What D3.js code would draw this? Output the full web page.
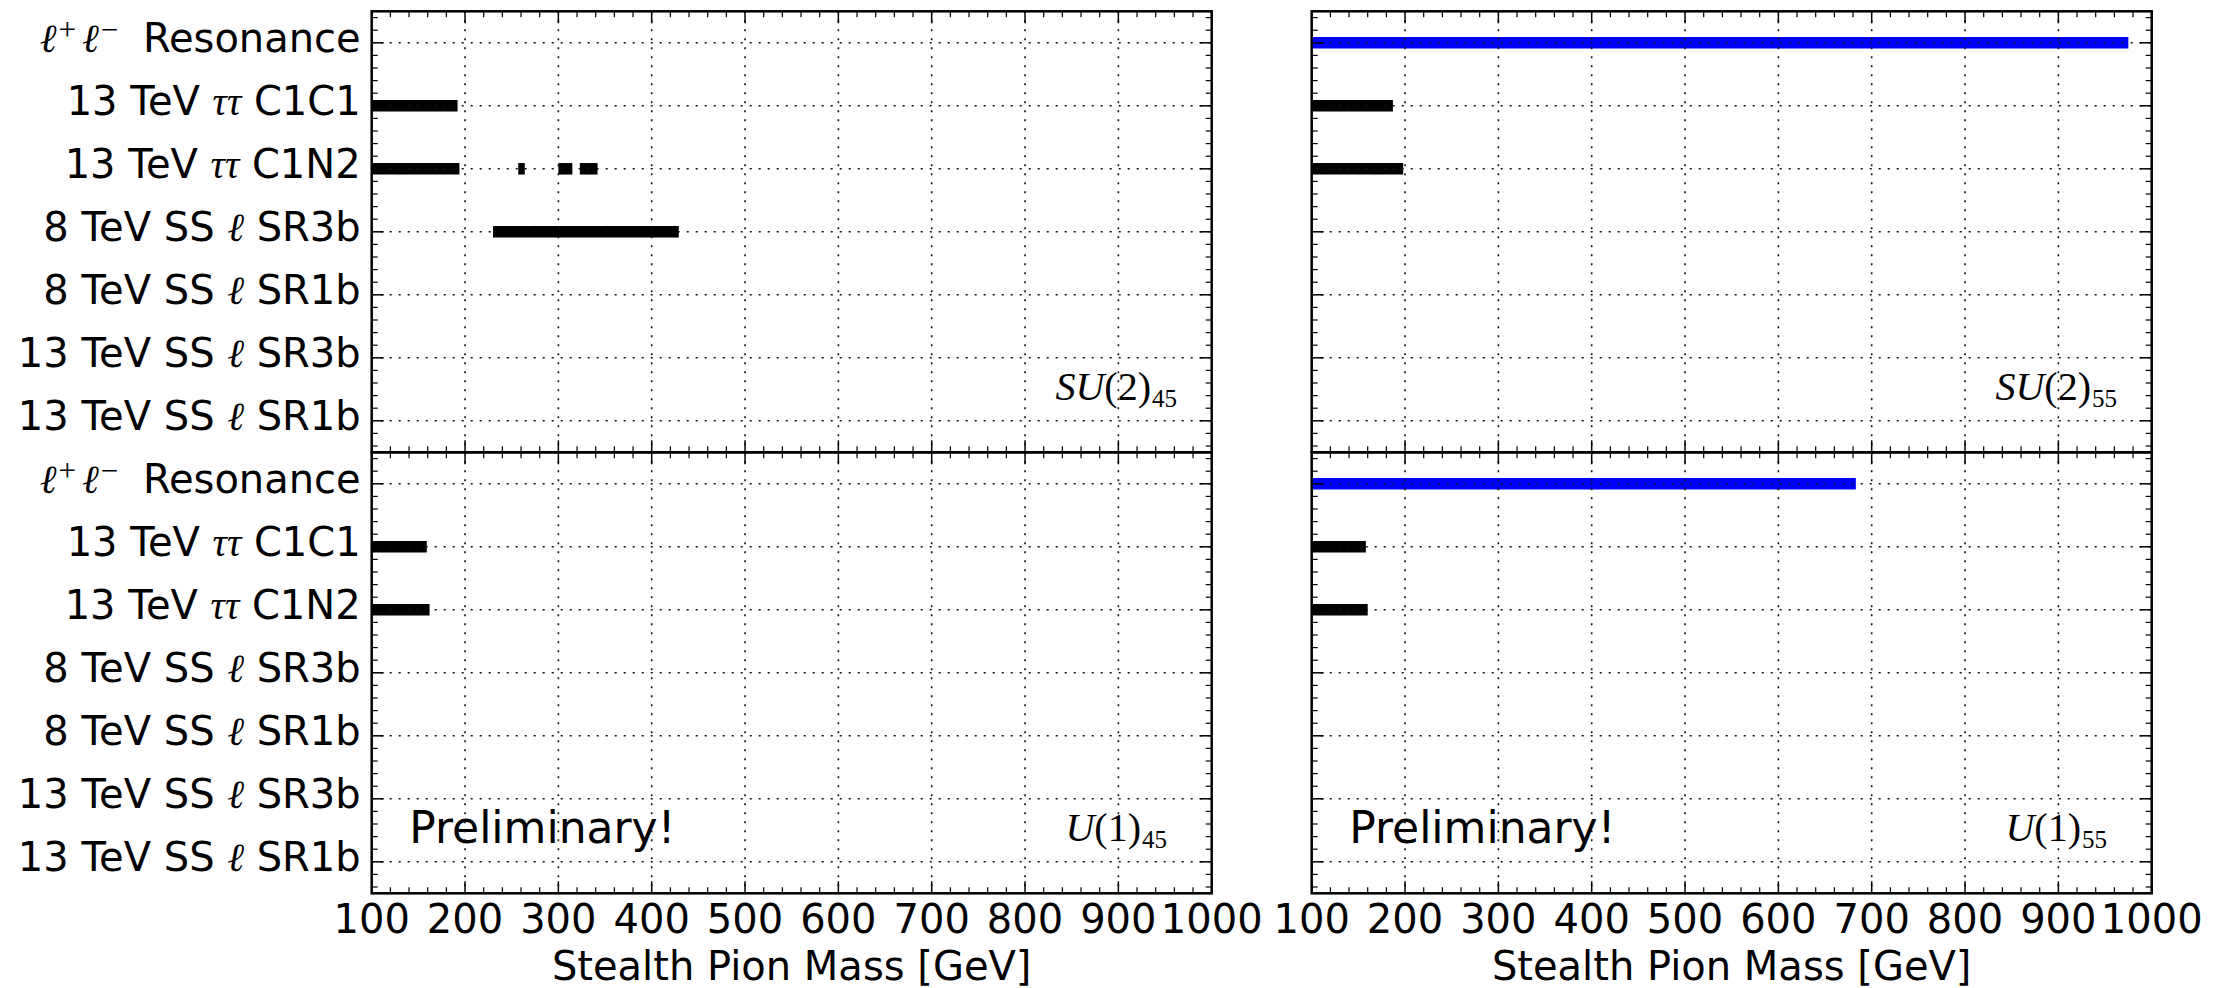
<!DOCTYPE html>
<html><head><meta charset="utf-8">
<script src="https://cdn.jsdelivr.net/npm/d3@7"></script>
<style>html,body{margin:0;padding:0;background:#fff;} svg{display:block;}</style>
</head><body><svg id="chart" width="2223" height="988"></svg>
<script>
// ---------------- data ----------------
const categories = ["ℓ⁺ℓ⁻ Resonance", "13 TeV ττ C1C1", "13 TeV ττ C1N2",
  "8 TeV SS ℓ SR3b", "8 TeV SS ℓ SR1b", "13 TeV SS ℓ SR3b", "13 TeV SS ℓ SR1b"];
const xTicks = [100, 200, 300, 400, 500, 600, 700, 800, 900, 1000];
const xLabel = "Stealth Pion Mass [GeV]";
// excluded ranges: [category index, mass from, mass to]
const su2_45 = [[1, 100, 192], [2, 100, 194], [2, 257, 264], [2, 300, 315], [2, 323, 342], [3, 230, 429]];
const su2_55 = [[0, 100, 975], [1, 100, 187], [2, 100, 198]];
const u1_45 = [[1, 100, 159], [2, 100, 162]];
const u1_55 = [[0, 100, 683], [1, 100, 158], [2, 100, 160]];
const panelGroups = ["SU(2)", "SU(2)", "U(1)", "U(1)"];
const panelSubs = ["45", "55", "45", "55"];
const watermark = "Preliminary!";

// ---------------- layout ----------------
const svg = d3.select("#chart");
const cols = [[371.7, 1211.7], [1311.7, 2151.7]];
const rowsY = [[11.3, 452.3], [452.3, 893.3]];
const panels = [
  {data: su2_45, c: 0, r: 0, name: 0},
  {data: su2_55, c: 1, r: 0, name: 1},
  {data: u1_45, c: 0, r: 1, name: 2},
  {data: u1_55, c: 1, r: 1, name: 3}
];
const SANS = "'DejaVu Sans', sans-serif";
const SERIF = "'Liberation Serif', 'DejaVu Serif', serif";

function richLabel(textSel, str, size) {
  // math symbols in serif italic, superscripts raised
  const runs = [];
  for (const ch of str) {
    let r;
    if (ch === "ℓ" || ch === "τ") r = {t: ch, font: SERIF, style: "italic", size: size, shift: 0, dx: 0};
    else if (ch === "⁺") r = {t: "+", font: SERIF, style: "normal", size: size * 0.78, shift: -12, dx: 2};
    else if (ch === "⁻") r = {t: "−", font: SERIF, style: "normal", size: size * 0.78, shift: -12, dx: 2};
    else r = {t: ch, font: SANS, style: "normal", size: size, shift: 0, dx: 0};
    const last = runs[runs.length - 1];
    if (last && last.font === r.font && last.style === r.style && last.size === r.size && last.shift === r.shift) last.t += r.t;
    else {
      if (last && last.shift !== 0 && r.shift === 0) r.dx = r.font === SANS ? 12 : 6;
      runs.push(r);
    }
  }
  let cur = 0;
  runs.forEach(r => {
    textSel.append("tspan").text(r.t)
      .attr("font-family", r.font).attr("font-style", r.style)
      .attr("font-size", r.size).attr("dy", r.shift - cur).attr("dx", r.dx);
    cur = r.shift;
  });
}

panels.forEach(p => {
  const [x0, x1] = cols[p.c];
  const [y0, y1] = rowsY[p.r];
  const x = d3.scaleLinear().domain([100, 1000]).range([x0, x1]);
  const y = d3.scaleLinear().domain([-0.5, 6.5]).range([y0, y1]);
  const g = svg.append("g");

  // bars
  g.selectAll("line.bar").data(p.data).enter().append("line")
    .attr("x1", d => x(d[1])).attr("x2", d => x(d[2]))
    .attr("y1", d => y(d[0])).attr("y2", d => y(d[0]))
    .attr("stroke", d => d[0] === 0 ? "#0000ff" : "#000")
    .attr("stroke-width", 11.5).attr("stroke-linecap", "butt");

  // panel label
  const lab = g.append("text")
    .attr("x", x0 + 744.5).attr("y", y0 + 389)
    .attr("text-anchor", "middle").attr("font-family", SERIF).attr("font-size", 40);
  for (const ch of panelGroups[p.name]) {
    lab.append("tspan").text(ch).attr("font-style", /[A-Za-z]/.test(ch) ? "italic" : "normal");
  }
  lab.append("tspan").text(panelSubs[p.name]).attr("font-size", 25).attr("dy", 7).attr("dx", 1);

  if (p.r === 1) {
    g.append("text").attr("x", x0 + 37.5).attr("y", y0 + 390.4)
      .attr("font-family", SANS).attr("font-size", 44).text(watermark);
  }

  // grid (drawn over bars & text)
  const grid = g.append("g").attr("stroke", "#111").attr("stroke-width", 1.6)
    .attr("stroke-dasharray", "2,7");
  grid.selectAll("line.gy").data(d3.range(categories.length)).enter().append("line")
    .attr("x1", x0).attr("x2", x1).attr("y1", d => y(d)).attr("y2", d => y(d));
  grid.selectAll("line.gx").data(xTicks.slice(1, -1)).enter().append("line")
    .attr("x1", d => x(d)).attr("x2", d => x(d)).attr("y1", y0).attr("y2", y1);

  // ticks (inward on all sides)
  const tk = g.append("g").attr("stroke", "#000");
  const minorX = d3.range(100, 1001, 20).filter(v => v % 100 !== 0);
  const majY = d3.range(categories.length);
  const minorY = d3.range(-0.4, 6.41, 0.2).filter(v => Math.abs(v - Math.round(v)) > 0.05);
  const L = 12, l = 6;
  xTicks.forEach(v => {
    tk.append("line").attr("x1", x(v)).attr("x2", x(v)).attr("y1", y1).attr("y2", y1 - L).attr("stroke-width", 1.5);
    tk.append("line").attr("x1", x(v)).attr("x2", x(v)).attr("y1", y0).attr("y2", y0 + L).attr("stroke-width", 1.5);
  });
  minorX.forEach(v => {
    tk.append("line").attr("x1", x(v)).attr("x2", x(v)).attr("y1", y1).attr("y2", y1 - l).attr("stroke-width", 1.2);
    tk.append("line").attr("x1", x(v)).attr("x2", x(v)).attr("y1", y0).attr("y2", y0 + l).attr("stroke-width", 1.2);
  });
  majY.forEach(v => {
    tk.append("line").attr("x1", x0).attr("x2", x0 + L).attr("y1", y(v)).attr("y2", y(v)).attr("stroke-width", 1.5);
    tk.append("line").attr("x1", x1).attr("x2", x1 - L).attr("y1", y(v)).attr("y2", y(v)).attr("stroke-width", 1.5);
  });
  minorY.forEach(v => {
    tk.append("line").attr("x1", x0).attr("x2", x0 + l).attr("y1", y(v)).attr("y2", y(v)).attr("stroke-width", 1.2);
    tk.append("line").attr("x1", x1).attr("x2", x1 - l).attr("y1", y(v)).attr("y2", y(v)).attr("stroke-width", 1.2);
  });

  // spines
  g.append("rect").attr("x", x0).attr("y", y0).attr("width", x1 - x0).attr("height", y1 - y0)
    .attr("fill", "none").attr("stroke", "#000").attr("stroke-width", 2.5);

  // y tick labels
  if (p.c === 0) {
    categories.forEach((c, i) => {
      const t = g.append("text").attr("x", x0 - 11).attr("y", y(i) + 9)
        .attr("text-anchor", "end").attr("font-family", SANS).attr("font-size", 40);
      richLabel(t, c, 40);
    });
  }
  // x tick labels & axis label
  if (p.r === 1) {
    g.selectAll("text.xt").data(xTicks).enter().append("text")
      .attr("x", d => x(d)).attr("y", y1 + 40).attr("text-anchor", "middle")
      .attr("font-family", SANS).attr("font-size", 40).text(d => d);
    g.append("text").attr("x", (x0 + x1) / 2).attr("y", 980).attr("text-anchor", "middle")
      .attr("font-family", SANS).attr("font-size", 40).text(xLabel);
  }
});
</script></body></html>
